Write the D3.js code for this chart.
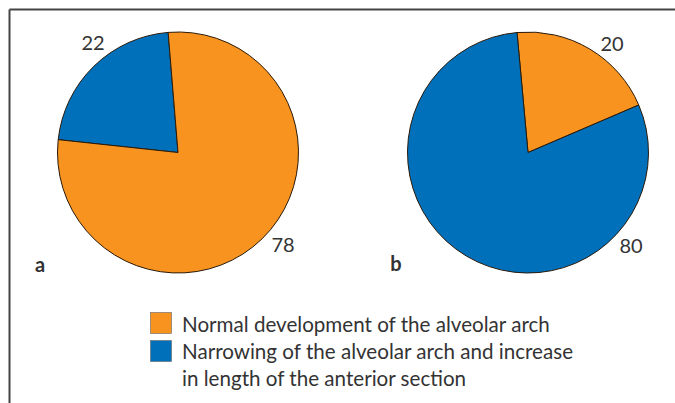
<!DOCTYPE html>
<html><head><meta charset="utf-8">
<script src="https://cdn.jsdelivr.net/npm/d3@7"></script>
<style>body{margin:0;background:#fff}svg{display:block}</style>
</head><body>
<svg id="c" width="675" height="403"></svg>
<script>
const categories = ["Normal development of the alveolar arch", "Narrowing of the alveolar arch and increase in length of the anterior section"];
const legendLines = [["Normal development of the alveolar arch"], ["Narrowing of the alveolar arch and increase", "in length of the anterior section"]];
const panelLabels = ["a", "b"];
const valuesA = [78, 22];
const valuesB = [20, 80];
const colors = ["#F7931E", "#0070BB"];

const svg = d3.select("#c");
const font = "Lato, 'Open Sans', sans-serif";

// frame
svg.append("line").attr("x1", 9.5).attr("x2", 9.5).attr("y1", 9.5).attr("y2", 403).attr("stroke", "#444").attr("stroke-width", 2);
svg.append("line").attr("x1", 9.5).attr("x2", 675).attr("y1", 9.5).attr("y2", 9.5).attr("stroke", "#444").attr("stroke-width", 2);

const color = d3.scaleOrdinal().domain([0, 1]).range(colors);
const r = 120.5;
const arc = d3.arc().innerRadius(0).outerRadius(r);

function drawPie(cx, cy, values, startAngle, order, labelPos) {
  const pie = d3.pie().sort(null).value(d => d.v)
    .startAngle(startAngle).endAngle(startAngle + 2 * Math.PI);
  const data = order.map(i => ({ i, v: values[i] }));
  const g = svg.append("g").attr("transform", `translate(${cx},${cy})`);
  g.selectAll("path").data(pie(data)).join("path")
    .attr("d", arc).attr("fill", d => color(d.data.i))
    .attr("stroke", "#2a1a0a").attr("stroke-width", 1);
  labelPos.forEach((p, k) => {
    g.append("text").attr("x", p[0]).attr("y", p[1])
      .attr("font-family", font).attr("font-size", 20).attr("fill", "#333")
      .attr("text-anchor", "middle").text(values[p[2]]);
  });
}

// pie a: blue 22 then orange 78 clockwise
drawPie(178, 152.5, valuesA, -Math.PI * 2 * 0.233, [1, 0], [[-85, -102.5, 1], [105, 99.5, 0]]);
// pie b: orange 20 then blue 80
drawPie(528, 152.5, valuesB, -Math.PI * 2 * 0.0145, [0, 1], [[84, -101.5, 0], [103, 100.5, 1]]);

svg.append("text").attr("x", 40).attr("y", 272).attr("font-family", font).attr("font-weight", "bold")
  .attr("font-size", 20).attr("fill", "#333").attr("text-anchor", "middle").text(panelLabels[0]);
svg.append("text").attr("x", 396).attr("y", 271).attr("font-family", font).attr("font-weight", "bold")
  .attr("font-size", 20).attr("fill", "#333").attr("text-anchor", "middle").text(panelLabels[1]);

// legend
const lg = svg.append("g");
const sy = [312, 340];
const lineY = [[332], [359, 386]];
categories.forEach((c, i) => {
  lg.append("rect").attr("x", 150.5).attr("y", sy[i] + 0.5).attr("width", 21).attr("height", 21)
    .attr("fill", color(i)).attr("stroke", "#666").attr("stroke-width", 0.6);
  legendLines[i].forEach((t, j) => {
    lg.append("text").attr("x", 182).attr("y", lineY[i][j]).attr("font-family", font)
      .attr("font-size", 20.6).attr("fill", "#333").text(t);
  });
});
</script>
</body></html>
